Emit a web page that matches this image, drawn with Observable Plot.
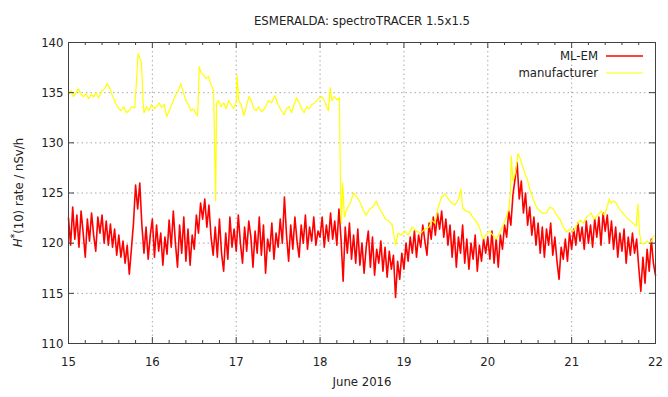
<!DOCTYPE html>
<html><head><meta charset="utf-8">
<script src="https://cdn.jsdelivr.net/npm/d3@7"></script>
<script src="https://cdn.jsdelivr.net/npm/@observablehq/plot@0.6"></script>
<style>
body{margin:0;background:#fff;}
#chart svg{font-family:"DejaVu Sans Condensed","DejaVu Sans",sans-serif;}
</style></head><body><div id="chart"></div>
<script>
const title = "ESMERALDA: spectroTRACER 1.5x1.5";
const xLabel = "June 2016";
const seriesNames = ["ML-EM", "manufacturer"];
const seriesColors = ["#ff0000", "#ffff00"];
const xTicks = [15, 16, 17, 18, 19, 20, 21, 22];
const xMinorTicks = [15.2,15.4,15.6,15.8,16.2,16.4,16.6,16.8,17.2,17.4,17.6,17.8,18.2,18.4,18.6,18.8,19.2,19.4,19.6,19.8,20.2,20.4,20.6,20.8,21.2,21.4,21.6,21.8];
const yTicks = [110, 115, 120, 125, 130, 135, 140];

// ML-EM: sampled every 0.025 day from 15.000
const mlemStart = 15, mlemStep = 0.025;
const mlemValues = [
122.5,119.8,123.6,120.4,122.8,119.6,123.2,121.0,118.6,122.4,120.2,123.0,120.8,119.2,122.6,121.0,122.8,120.0,122.2,119.8,
121.9,119.6,121.4,118.8,120.8,118.6,120.2,118.0,119.8,116.9,119.4,122.0,125.8,123.4,126.0,121.8,119.0,121.6,118.4,120.8,
122.4,118.6,121.8,119.2,121.0,117.8,120.6,118.9,122.3,119.6,123.2,120.0,117.6,121.8,119.0,122.6,118.2,121.4,117.8,120.8,
119.4,122.8,121.0,124.0,122.4,124.4,121.6,123.8,120.6,118.8,121.6,118.6,122.4,119.0,117.2,121.0,118.4,122.6,119.6,121.4,
119.2,122.8,120.0,118.0,121.6,119.2,122.2,120.6,117.6,121.2,119.0,122.6,118.8,121.8,117.0,120.4,119.2,122.0,118.4,121.0,
119.6,122.4,120.0,124.6,120.8,118.2,121.8,119.4,122.6,120.2,118.6,121.8,120.0,122.8,119.4,121.6,120.2,122.6,119.8,121.2,
120.6,122.6,119.6,121.8,120.2,123.0,120.4,122.2,119.8,123.4,120.4,116.2,121.6,119.0,122.0,118.4,120.8,118.0,121.4,117.8,
120.0,117.0,119.6,121.2,117.6,120.6,116.8,119.4,118.0,120.2,117.2,119.6,116.6,119.2,117.4,118.8,114.6,118.2,116.4,119.0,
117.4,120.0,118.2,120.6,119.0,121.2,118.6,120.8,119.6,121.8,120.2,118.8,122.0,120.4,122.6,120.8,123.0,121.4,123.2,120.6,
122.4,119.8,121.8,118.6,121.2,117.6,120.6,119.0,121.8,118.0,120.4,117.4,120.0,118.4,120.8,117.2,119.8,118.2,120.4,119.0,
120.6,118.4,121.2,118.0,120.4,117.6,120.8,119.4,121.8,120.6,123.2,121.8,124.8,126.4,128.0,124.4,126.2,123.0,125.0,121.8,
123.6,120.8,122.6,119.8,122.0,119.0,121.6,118.6,121.4,119.8,122.0,118.8,120.6,118.2,116.4,119.6,118.4,120.4,118.2,121.0,
119.4,121.4,119.8,122.0,120.2,121.6,119.4,122.2,120.0,121.8,119.6,122.4,120.6,122.6,119.8,123.0,121.2,122.8,120.0,122.2,
119.4,121.6,118.6,121.0,119.2,121.4,118.0,120.6,118.8,121.0,119.0,120.4,117.6,115.2,118.6,116.0,119.4,117.2,120.4,118.0,
116.8
];

// manufacturer: (day, value) pairs
const manufTime = [
15.00,15.03,15.06,15.09,15.12,15.15,15.18,15.21,15.24,15.27,15.30,15.33,15.36,15.40,15.43,15.46,15.49,15.52,15.56,15.60,
15.63,15.66,15.69,15.72,15.75,15.79,15.81,15.83,15.85,15.87,15.89,15.90,15.93,15.96,15.99,16.02,16.05,16.08,16.11,16.14,
16.17,16.20,16.24,16.28,16.31,16.34,16.37,16.40,16.43,16.46,16.49,16.52,16.54,16.56,16.58,16.61,16.64,16.67,16.70,16.73,
16.755,16.765,16.79,16.82,16.85,16.88,16.91,16.94,16.97,17.00,17.01,17.03,17.06,17.09,17.12,17.15,17.18,17.21,17.24,17.27,
17.30,17.34,17.38,17.42,17.46,17.50,17.54,17.57,17.60,17.63,17.66,17.69,17.72,17.75,17.78,17.81,17.84,17.87,17.90,17.94,
17.98,18.02,18.05,18.08,18.10,18.12,18.14,18.17,18.20,18.23,18.245,18.255,18.27,18.29,18.32,18.36,18.40,18.44,18.48,18.52,
18.55,18.59,18.63,18.67,18.70,18.74,18.78,18.82,18.86,18.90,18.93,18.97,19.01,19.05,19.10,19.15,19.20,19.25,19.30,19.33,
19.37,19.41,19.45,19.49,19.53,19.57,19.61,19.65,19.68,19.70,19.74,19.78,19.82,19.86,19.90,19.94,19.98,20.02,20.06,20.10,
20.14,20.18,20.22,20.25,20.27,20.28,20.30,20.33,20.36,20.38,20.41,20.44,20.47,20.50,20.54,20.58,20.61,20.65,20.70,20.74,
20.78,20.82,20.86,20.90,20.94,20.98,21.02,21.06,21.10,21.14,21.18,21.23,21.27,21.31,21.35,21.39,21.43,21.45,21.47,21.50,
21.53,21.57,21.61,21.65,21.69,21.73,21.77,21.79,21.81,21.83,21.86,21.90,21.94,21.97,22.00
];
const manufValues = [
134.8,135.2,134.6,135.0,135.4,134.8,134.6,134.9,134.4,134.8,134.6,135.0,134.5,135.2,135.4,135.9,135.5,134.8,134.0,133.4,
133.2,133.6,133.0,133.2,133.6,133.5,136.0,138.9,138.4,138.0,134.0,133.0,133.6,133.2,133.8,133.4,133.6,134.0,133.5,133.8,
132.6,133.2,134.0,134.8,135.2,135.9,135.0,134.2,133.8,133.2,133.4,132.9,132.7,137.6,137.0,136.8,136.4,136.6,135.8,135.2,
124.2,133.9,134.2,133.6,134.0,133.4,134.2,133.8,133.4,134.0,136.7,134.2,133.8,132.7,133.6,134.6,134.2,133.4,133.2,133.6,
133.1,133.4,134.2,134.0,134.7,133.8,133.2,132.8,133.4,133.6,133.0,133.8,134.5,134.0,133.4,133.0,133.6,133.4,133.8,134.0,
134.4,134.6,134.2,133.6,133.2,135.5,134.2,134.6,134.3,134.5,125.0,122.0,126.0,122.6,123.4,124.0,125.0,124.6,124.0,123.2,
122.8,123.4,123.6,124.2,123.6,123.0,122.4,122.2,121.8,119.8,121.0,120.8,121.2,120.8,121.6,121.2,121.0,121.4,121.6,122.3,
122.0,123.6,124.6,124.9,124.4,124.0,123.8,124.4,125.4,123.5,123.2,123.1,122.6,122.2,121.6,120.4,120.8,121.2,120.8,120.4,
121.0,121.7,122.6,123.4,125.0,128.7,126.2,127.0,128.9,128.6,127.8,127.0,126.4,125.4,124.4,123.6,123.3,123.0,123.0,123.6,
123.4,122.8,122.4,121.6,121.1,121.4,121.2,121.8,122.3,122.0,122.6,123.0,122.4,122.8,123.2,122.8,123.8,124.4,124.0,124.2,
124.0,123.4,123.0,122.6,122.3,122.0,121.7,123.9,121.0,120.0,119.9,120.2,120.0,120.6,120.8
];

const mlem = mlemValues.map((v, i) => ({t: mlemStart + i * mlemStep, v}));
const manuf = manufTime.map((t, i) => ({t, v: manufValues[i]}));

const W = 668, H = 397, mt = 42, mr = 13, mb = 54, ml = 68;
const fh = H - mt - mb, fw = W - ml - mr;
const axisColor = "#404040", gridColor = "#a8a8a8", textColor = "#222";
const font = "13px";

const plot = Plot.plot({
  width: W, height: H,
  marginTop: mt, marginRight: mr, marginBottom: mb, marginLeft: ml,
  style: {fontSize: font, color: textColor, background: "#fff", fontFamily: '"DejaVu Sans Condensed","DejaVu Sans",sans-serif'},
  x: {domain: [15, 22]},
  y: {domain: [110, 140]},
  marks: [
    Plot.gridX(xTicks.slice(1, -1), {stroke: gridColor, strokeOpacity: 1, strokeDasharray: "1.5,3"}),
    Plot.gridY(yTicks.slice(1, -1), {stroke: gridColor, strokeOpacity: 1, strokeDasharray: "1.5,3"}),
    Plot.line(mlem, {x: "t", y: "v", stroke: seriesColors[0], strokeWidth: 1.6}),
    Plot.line(manuf, {x: "t", y: "v", stroke: seriesColors[1], strokeWidth: 1.2}),
    Plot.frame({stroke: axisColor, strokeWidth: 1}),
    Plot.tickX(xTicks, {x: d => d, insetTop: fh - 6, stroke: axisColor}),
    Plot.tickX(xTicks, {x: d => d, insetBottom: fh - 6, stroke: axisColor}),
    Plot.tickX(xMinorTicks, {x: d => d, insetTop: fh - 3, stroke: axisColor}),
    Plot.tickX(xMinorTicks, {x: d => d, insetBottom: fh - 3, stroke: axisColor}),
    Plot.tickY(yTicks, {y: d => d, insetRight: fw - 6, stroke: axisColor}),
    Plot.tickY(yTicks, {y: d => d, insetLeft: fw - 6, stroke: axisColor}),
    Plot.axisX(xTicks, {tickSize: 0, tickPadding: 13, label: null, tickFormat: d => String(d)}),
    Plot.axisY(yTicks, {tickSize: 0, tickPadding: 5, label: null, tickFormat: d => String(d)}),
    Plot.text([title], {frameAnchor: "top", dy: -27, fill: textColor}),
    Plot.text([xLabel], {frameAnchor: "bottom", dy: 42, fill: textColor})
  ]
});
document.getElementById("chart").appendChild(plot);

const svg = d3.select(plot);
// y-axis label with italic H and superscript-like star
const yl = svg.append("text")
  .attr("transform", `translate(18,${mt + fh / 2}) rotate(-90)`)
  .attr("text-anchor", "middle")
  .attr("dominant-baseline", "middle")
  .attr("fill", textColor)
  .style("font-size", font);
yl.append("tspan").attr("font-style", "italic").text("H");
yl.append("tspan").attr("font-size", "10px").attr("dy", "-0.3em").text("*");
yl.append("tspan").attr("dy", "0.3em").text("(10) rate / nSv/h");

// legend (top right inside the frame)
const lg = svg.append("g");
seriesNames.forEach((name, i) => {
  const y = 56 + i * 17;
  lg.append("text").attr("x", 598).attr("y", y).attr("text-anchor", "end")
    .attr("dominant-baseline", "middle").attr("fill", textColor).style("font-size", font).text(name);
  lg.append("line").attr("x1", 606).attr("x2", 643).attr("y1", y).attr("y2", y)
    .attr("stroke", seriesColors[i]).attr("stroke-width", i === 0 ? 1.6 : 1.2);
});
</script></body></html>
